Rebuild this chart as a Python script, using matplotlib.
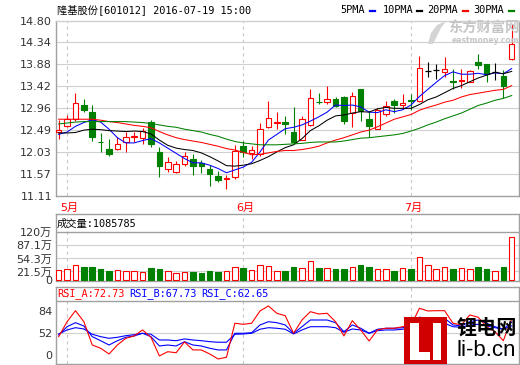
import numpy as np
import matplotlib.pyplot as plt
from matplotlib.patches import Rectangle, Polygon
from matplotlib.lines import Line2D

W, H = 520, 365

# daily bars 2016-04-29 .. 2016-07-19
opens = [12.44, 12.58, 12.72, 13.01, 12.88, 12.24, 12.09, 12.10, 12.23, 12.34,
         12.32, 12.66, 12.03, 11.66, 11.61, 11.77, 11.89, 11.80, 11.67, 11.53,
         11.45, 11.50, 12.16, 12.01, 11.98, 12.55, 12.64, 12.66, 12.44, 12.29,
         12.59, 13.09, 13.08, 13.14, 13.18, 12.85, 13.35, 12.72, 12.51, 12.84,
         13.10, 13.01, 13.13, 13.10, 13.74, 13.76, 13.71, 13.52, 13.52, 13.50,
         13.92, 13.88, 13.71, 13.64, 14.00]
highs = [12.70, 12.80, 13.28, 13.14, 13.01, 12.43, 12.30, 12.35, 12.45, 12.45,
         12.53, 12.71, 12.13, 11.92, 11.84, 12.02, 11.98, 11.86, 11.75, 11.63,
         11.55, 12.17, 12.25, 12.16, 12.65, 13.10, 12.87, 12.78, 12.97, 12.79,
         13.35, 13.28, 13.42, 13.19, 13.21, 13.29, 13.36, 12.89, 12.95, 13.10,
         13.14, 13.25, 13.25, 14.05, 13.92, 13.88, 14.03, 13.77, 13.79, 13.76,
         14.09, 13.88, 13.90, 13.75, 14.74]
lows = [12.30, 12.56, 12.68, 12.87, 12.26, 12.03, 11.94, 12.07, 12.03, 12.23,
        12.19, 12.13, 11.50, 11.61, 11.58, 11.73, 11.54, 11.59, 11.32, 11.39,
        11.25, 11.46, 11.92, 11.88, 11.95, 12.53, 12.51, 12.41, 12.19, 12.28,
        12.57, 13.04, 13.05, 12.97, 12.62, 12.55, 12.68, 12.35, 12.51, 12.79,
        12.86, 12.93, 12.92, 13.08, 13.62, 13.56, 13.61, 13.35, 13.37, 13.50,
        13.77, 13.50, 13.54, 13.16, 13.96]
closes = [12.49, 12.72, 13.07, 12.92, 12.35, 12.23, 11.98, 12.19, 12.34, 12.36,
          12.47, 12.19, 11.74, 11.81, 11.77, 11.95, 11.73, 11.73, 11.56, 11.44,
          11.47, 12.05, 12.03, 12.07, 12.51, 12.74, 12.66, 12.62, 12.24, 12.73,
          13.16, 13.08, 13.14, 13.00, 12.68, 13.21, 12.89, 12.58, 12.92, 13.00,
          13.01, 13.07, 13.10, 13.81, 13.74, 13.76, 13.79, 13.51, 13.54, 13.74,
          13.86, 13.67, 13.71, 13.43, 14.30]

ma5 = [12.40, 12.45, 12.57, 12.65, 12.71, 12.66, 12.51, 12.33, 12.22, 12.22,
       12.27, 12.31, 12.22, 12.11, 12.00, 11.89, 11.80, 11.80, 11.75, 11.68,
       11.59, 11.65, 11.71, 11.81, 12.03, 12.28, 12.40, 12.52, 12.55, 12.60,
       12.68, 12.77, 12.87, 13.02, 13.01, 13.02, 12.98, 12.87, 12.86, 12.92,
       12.88, 12.92, 13.02, 13.20, 13.35, 13.50, 13.64, 13.72, 13.67, 13.67,
       13.69, 13.66, 13.70, 13.68, 13.79]
ma10 = [12.43, 12.43, 12.44, 12.49, 12.51, 12.50, 12.48, 12.47, 12.46, 12.47,
        12.46, 12.41, 12.28, 12.17, 12.11, 12.08, 12.06, 12.01, 11.93, 11.84,
        11.74, 11.73, 11.75, 11.78, 11.85, 11.93, 12.03, 12.12, 12.18, 12.31,
        12.48, 12.58, 12.70, 12.79, 12.81, 12.85, 12.88, 12.87, 12.94, 12.97,
        12.95, 12.95, 12.95, 13.03, 13.13, 13.19, 13.28, 13.37, 13.43, 13.51,
        13.59, 13.65, 13.71, 13.68, 13.73]
ma20 = [12.72, 12.72, 12.72, 12.72, 12.72, 12.70, 12.67, 12.65, 12.62, 12.59,
        12.57, 12.54, 12.46, 12.39, 12.33, 12.29, 12.26, 12.23, 12.19, 12.15,
        12.10, 12.07, 12.02, 11.97, 11.98, 12.01, 12.04, 12.06, 12.06, 12.08,
        12.11, 12.15, 12.22, 12.28, 12.33, 12.39, 12.45, 12.49, 12.56, 12.64,
        12.72, 12.77, 12.82, 12.91, 12.97, 13.02, 13.08, 13.12, 13.19, 13.24,
        13.27, 13.30, 13.33, 13.35, 13.43]
ma30 = [12.62, 12.64, 12.66, 12.67, 12.67, 12.67, 12.67, 12.67, 12.67, 12.66,
        12.65, 12.63, 12.60, 12.57, 12.55, 12.51, 12.48, 12.45, 12.40, 12.36,
        12.30, 12.25, 12.22, 12.20, 12.18, 12.18, 12.18, 12.19, 12.20, 12.21,
        12.23, 12.24, 12.24, 12.24, 12.26, 12.29, 12.32, 12.33, 12.35, 12.37,
        12.39, 12.42, 12.47, 12.53, 12.60, 12.66, 12.73, 12.79, 12.85, 12.93,
        13.01, 13.06, 13.12, 13.16, 13.22]

# volume in 万
volume = [25.2, 27.7, 37.0, 32.7, 32.7, 27.7, 22.6, 25.2, 23.5, 22.6,
          20.1, 30.2, 27.7, 22.6, 18.4, 21.0, 20.1, 18.4, 23.5, 21.0,
          22.6, 32.7, 30.2, 25.2, 37.0, 34.4, 22.6, 22.6, 32.7, 29.4,
          47.0, 30.2, 29.4, 27.7, 27.7, 31.9, 37.7, 32.7, 27.7, 27.7,
          23.5, 29.4, 27.7, 57.0, 37.0, 27.7, 31.9, 27.7, 29.4, 27.7,
          32.7, 27.7, 22.6, 32.7, 108.58]

rsi_a = [47.2, 68.4, 84.0, 68.4, 35.4, 30.8, 22.7, 35.4, 44.9, 48.2,
         56.7, 46.3, 19.9, 25.9, 24.5, 39.7, 28.4, 28.4, 22.7, 15.6,
         18.0, 66.2, 64.7, 66.2, 83.6, 90.7, 80.3, 76.9, 52.0, 70.8,
         82.6, 79.3, 80.3, 68.4, 48.2, 69.8, 56.7, 41.1, 56.7, 59.1,
         59.1, 61.3, 63.0, 87.4, 83.6, 84.0, 84.0, 66.2, 63.8, 77.9,
         74.7, 61.3, 54.3, 41.5, 72.73]
rsi_b = [49.6, 61.3, 67.0, 62.3, 47.2, 41.5, 35.4, 41.5, 46.3, 48.2,
         52.0, 47.2, 34.0, 35.4, 34.0, 40.1, 35.4, 34.0, 30.8, 28.4,
         28.4, 52.0, 52.0, 52.8, 63.8, 68.4, 67.0, 63.8, 52.0, 61.3,
         70.8, 70.8, 70.8, 67.0, 54.3, 63.8, 59.1, 52.0, 57.7, 59.1,
         59.1, 59.9, 61.3, 74.7, 73.2, 73.2, 73.2, 63.8, 62.3, 68.4,
         70.8, 66.2, 61.3, 57.7, 67.73]
rsi_c = [51.0, 56.7, 59.9, 58.1, 50.6, 47.2, 44.9, 46.3, 48.6, 50.0,
         52.0, 50.6, 42.5, 42.5, 41.5, 44.0, 42.5, 41.5, 40.1, 39.3,
         39.3, 50.6, 51.0, 52.0, 57.7, 59.9, 59.1, 57.7, 51.0, 56.7,
         61.3, 61.3, 61.3, 59.9, 53.4, 58.1, 56.7, 52.0, 55.7, 56.7,
         56.7, 57.7, 59.1, 67.0, 66.2, 66.2, 66.2, 61.3, 60.5, 63.8,
         64.7, 62.3, 59.9, 57.7, 62.65]

month_starts = [1, 22, 42]
month_labels = ['5月', '6月', '7月']
price_ticks = [11.11, 11.57, 12.03, 12.49, 12.96, 13.42, 13.88, 14.34, 14.80]
vol_ticks = [0, 21.5, 54.3, 87.1, 120]
vol_labels = ['0', '21.5万', '54.3万', '87.1万', '120万']
rsi_ticks = [84, 52, 20.8]
rsi_labels = ['84', '52', '0']
last_volume = 1085785
ma_names = ['5PMA', '10PMA', '20PMA', '30PMA']

RED, GREEN, BLUE = '#ff0000', '#008000', '#0000ff'
FRAME = '#a0a0a0'
GRID = '#d0d0d0'
TXT = '#333333'
CJK = ['DejaVu Sans', 'Noto Sans CJK SC']
MONO = ['DejaVu Sans Mono', 'Noto Sans CJK SC']


def box(x0, y0, x1, y1):
    return [x0 / W, 1 - y1 / H, (x1 - x0) / W, (y1 - y0) / H]


def fy(py):
    return 1 - py / H


fig = plt.figure(figsize=(W / 100, H / 100), dpi=100)
ax = fig.add_axes(box(55.5, 20.7, 519, 195.5))
axv = fig.add_axes(box(55.5, 214, 519, 281))
axr = fig.add_axes(box(55.5, 287.3, 519, 363.5))

idx = np.arange(len(closes))

for a in (ax, axv, axr):
    a.set_xlim(-0.38, 54.87)
    a.set_xticks([])
    for s in a.spines.values():
        s.set_color(FRAME)
        s.set_linewidth(1.0)
    a.tick_params(axis='y', length=0, pad=2.5, labelsize=8, labelcolor=TXT)
    for m in month_starts:
        a.axvline(m, color='#c8c8c8', lw=0.8, ls=(0, (3, 3)), zorder=0)
ax.spines['top'].set_color(GRID)

# candles
for i in idx:
    o, c = opens[i], closes[i]
    col = RED if c > o else (GREEN if c < o else 'black')
    ax.vlines(i, lows[i], highs[i], color=col, lw=0.8, zorder=2)
    if c == o:
        ax.hlines(o, i - 0.33, i + 0.33, color=col, lw=0.9, zorder=3)
    else:
        ax.bar(i, abs(c - o), bottom=min(o, c), width=0.66,
               facecolor='white' if c > o else GREEN, edgecolor=col, lw=0.8, zorder=3)

for vals, col in zip((ma5, ma10, ma20, ma30), (BLUE, 'black', RED, GREEN)):
    ax.plot(idx, vals, color=col, lw=0.75, zorder=4)

ax.set_ylim(11.11, 14.80)
ax.set_yticks(price_ticks)
ax.set_yticklabels([f'{t:.2f}' for t in price_ticks])
for t in price_ticks[1:-1]:
    ax.axhline(t, color=GRID, lw=0.8, zorder=0)

for m, lab in zip(month_starts, month_labels):
    ax.text(m + 0.3, 11.11 - 12.5 / 47.37, lab, color=RED, family=CJK, size=8,
            ha='center', va='center', clip_on=False)

# volume
for i in idx:
    up = closes[i] >= opens[i]
    axv.bar(i, volume[i], width=0.66, facecolor='white' if up else GREEN,
            edgecolor=RED if up else GREEN, lw=0.8, zorder=3)
axv.set_ylim(-2.5, 166)
axv.set_yticks(vol_ticks)
axv.set_yticklabels(vol_labels, family=CJK)
for t in vol_ticks[1:-1]:
    axv.axhline(t, color=GRID, lw=0.8, zorder=0)
axv.axhline(120, color=FRAME, lw=1.0, zorder=1)

# rsi
axr.plot(idx, rsi_c, color=BLUE, lw=0.8, zorder=3)
axr.plot(idx, rsi_b, color=BLUE, lw=0.8, zorder=3)
axr.plot(idx, rsi_a, color=RED, lw=0.8, zorder=4)
axr.set_ylim(9.2, 117.1)
axr.set_yticks(rsi_ticks)
axr.set_yticklabels(rsi_labels)
axr.axhline(52, color=GRID, lw=0.8, zorder=0)
axr.axhline(98.2, color=FRAME, lw=1.0, zorder=1)

# header texts
fig.text(56.7 / W, fy(10), '隆基股份[601012] 2016-07-19 15:00', family=MONO,
         size=7.4, va='center', color='black')
fig.text(57 / W, fy(223.3), f'成交量:{last_volume}', family=MONO, size=7.4,
         va='center', color='black')
rsi_heads = [f'RSI_A:{rsi_a[-1]:.2f}', f'RSI_B:{rsi_b[-1]:.2f}', f'RSI_C:{rsi_c[-1]:.2f}']
for x0, txt, col in zip((57, 129, 201), rsi_heads, (RED, BLUE, BLUE)):
    fig.text(x0 / W, fy(293.6), txt, family=MONO, size=7.4, va='center', color=col)

# legend
for x0, dx, name, col in zip((340, 383, 427, 473), (370, 417, 463, 509), ma_names,
                             (BLUE, 'black', RED, GREEN)):
    fig.text(x0 / W, fy(10), name, family=MONO, size=7.4, va='center', color='black')
    fig.add_artist(Line2D([dx / W, (dx + 5) / W], [fy(10.5), fy(10.5)], color=col,
                          lw=1.6, transform=fig.transFigure))

# watermark
leaf = [(428, 44), (431, 33), (437, 25), (446, 21), (441, 28), (437, 36), (433, 44)]
fig.add_artist(Polygon([(x / W, fy(y)) for x, y in leaf], closed=True,
                       facecolor='#d4d4d4', edgecolor='none', transform=fig.transFigure))
fig.text(484 / W, fy(29), '东方财富网', family='Noto Sans CJK SC', weight='bold',
         size=10.3, color='#c6c6c6', ha='center', va='center')
fig.text(485 / W, fy(40.5), 'eastmoney.com', family='DejaVu Sans', weight='bold',
         size=5.5, color='#c6c6c6', ha='center', va='center')


# li-b.cn logo
def rect(x0, y0, x1, y1, col):
    fig.add_artist(Rectangle((x0 / W, fy(y1)), (x1 - x0) / W, (y1 - y0) / H,
                             facecolor=col, edgecolor='none', transform=fig.transFigure,
                             zorder=10))


rect(404, 317.3, 447, 363.5, '#d00000')
rect(410, 323, 419, 360, 'white')
rect(410, 351.5, 429.5, 360, 'white')
rect(432.5, 323, 440.5, 360, 'white')
fig.text(457 / W, fy(327.5), '锂电网', family='Noto Sans CJK SC', weight='bold',
         size=14.5, color='black', va='center', ha='left', zorder=11)
fig.text(456 / W, fy(351), 'li-b.cn', family='Liberation Sans', size=16,
         color='black', va='center', ha='left', zorder=11)

fig.savefig('out.png', dpi=100)
